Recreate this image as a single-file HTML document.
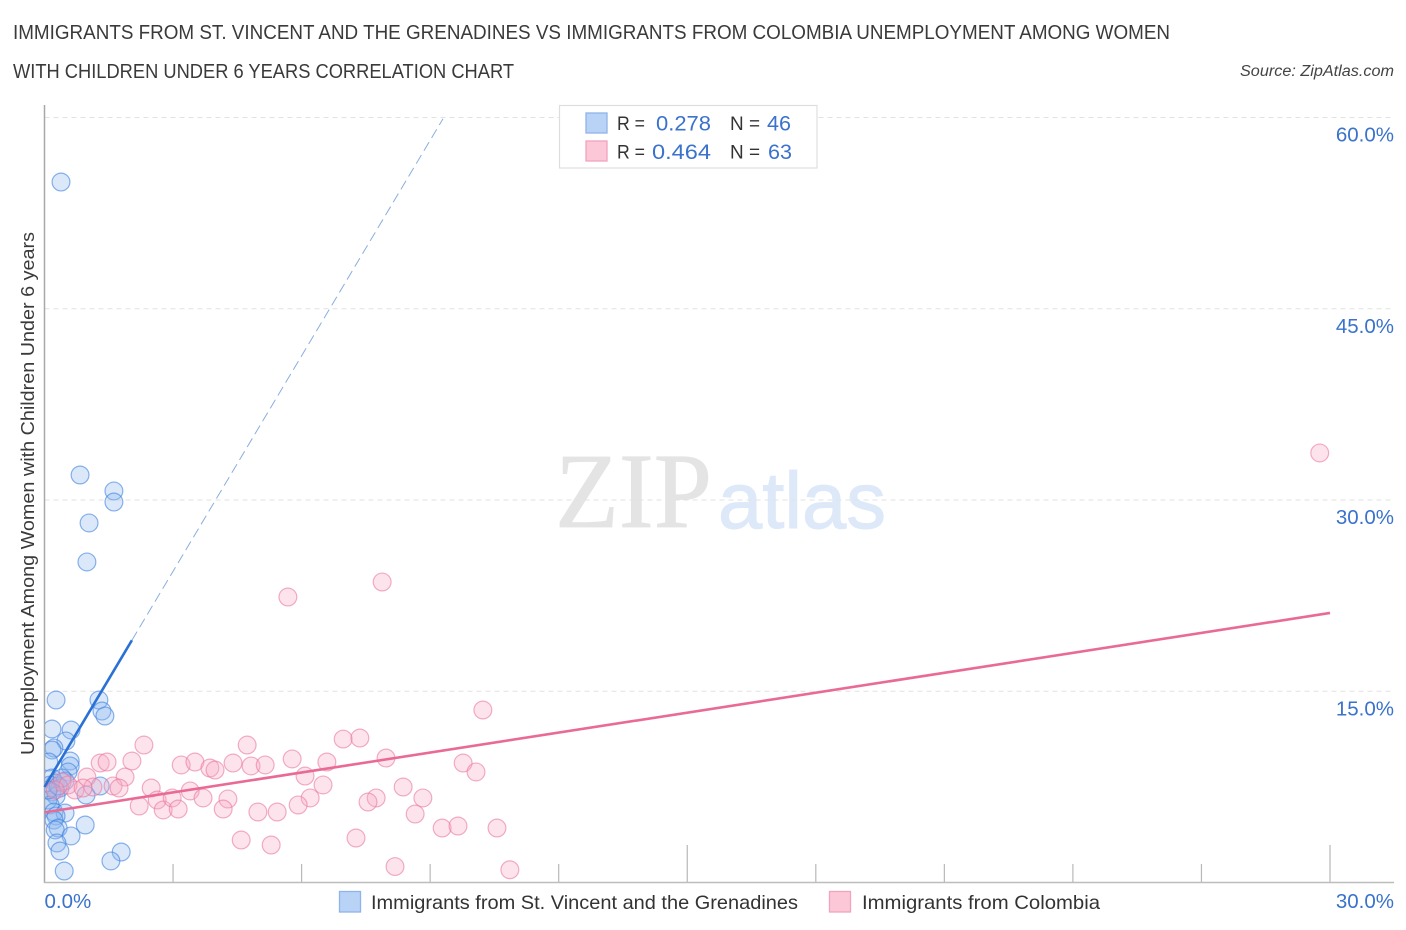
<!DOCTYPE html>
<html lang="en">
<head>
<meta charset="utf-8">
<title>Unemployment Among Women with Children Under 6 Years Correlation Chart</title>
<style>
html,body{margin:0;padding:0;background:#fff;width:1406px;height:930px;overflow:hidden}
svg{display:block;font-family:"Liberation Sans",sans-serif}
</style>
</head>
<body>
<svg id="chart" xmlns="http://www.w3.org/2000/svg" width="1406" height="930" viewBox="0 0 1406 930">
  <defs>
    <clipPath id="plot-clip"><rect x="45" y="100" width="1349" height="783"/></clipPath>
  </defs>
  <rect x="0" y="0" width="1406" height="930" fill="#ffffff"/>
  <text x="13" y="39" font-size="20" fill="#3a3a3a" textLength="1157" lengthAdjust="spacingAndGlyphs">IMMIGRANTS FROM ST. VINCENT AND THE GRENADINES VS IMMIGRANTS FROM COLOMBIA UNEMPLOYMENT AMONG WOMEN</text>
  <text x="13" y="78" font-size="20" fill="#3a3a3a" textLength="501" lengthAdjust="spacingAndGlyphs">WITH CHILDREN UNDER 6 YEARS CORRELATION CHART</text>
  <text x="1240" y="76" font-size="15.5" font-style="italic" fill="#444" textLength="154" lengthAdjust="spacingAndGlyphs">Source: ZipAtlas.com</text>

  <g>
    <text x="555" y="527" font-family="'Liberation Serif',serif" font-size="107" fill="#e4e4e4" stroke="#e4e4e4" stroke-width="0.8" textLength="157" lengthAdjust="spacingAndGlyphs">ZIP</text>
    <text x="718" y="528" font-size="80" fill="#dde9f8" stroke="#dde9f8" stroke-width="1" textLength="168" lengthAdjust="spacingAndGlyphs">atlas</text>
  </g>

  <g id="grid"></g>
  <g id="axes"></g>
  <g id="points" clip-path="url(#plot-clip)"></g>
  <g id="trends"></g>
  <g id="ticklabels"></g>

  <text transform="translate(34,755) rotate(-90)" x="0" y="0" font-size="18.5" fill="#3a3a3a" textLength="523" lengthAdjust="spacingAndGlyphs">Unemployment Among Women with Children Under 6 years</text>

  <g>
    <rect x="559.5" y="105.5" width="257.5" height="62.5" fill="#fff" stroke="#dedede" stroke-width="1.2"/>
    <rect x="586" y="113" width="21" height="20" fill="#b9d3f6" stroke="#8fb4ea" stroke-width="1.3"/>
    <rect x="586" y="141" width="21" height="20" fill="#fcc8d8" stroke="#f2a3bd" stroke-width="1.3"/>
    <text x="617" y="130" font-size="19.5" fill="#333" textLength="28" lengthAdjust="spacingAndGlyphs">R =</text>
    <text x="656" y="130.5" font-size="21" fill="#3a72cc" textLength="55" lengthAdjust="spacingAndGlyphs">0.278</text>
    <text x="730" y="130" font-size="19.5" fill="#333" textLength="30" lengthAdjust="spacingAndGlyphs">N =</text>
    <text x="767" y="130.5" font-size="21" fill="#3a72cc" textLength="24" lengthAdjust="spacingAndGlyphs">46</text>
    <text x="617" y="158.5" font-size="19.5" fill="#333" textLength="28" lengthAdjust="spacingAndGlyphs">R =</text>
    <text x="652" y="159" font-size="21" fill="#3a72cc" textLength="59" lengthAdjust="spacingAndGlyphs">0.464</text>
    <text x="730" y="158.5" font-size="19.5" fill="#333" textLength="30" lengthAdjust="spacingAndGlyphs">N =</text>
    <text x="768" y="159" font-size="21" fill="#3a72cc" textLength="24" lengthAdjust="spacingAndGlyphs">63</text>
  </g>

  <g>
    <rect x="339.5" y="891.5" width="21" height="20.5" fill="#b9d3f6" stroke="#8fb4ea" stroke-width="1.3"/>
    <text x="371" y="909" font-size="19.5" fill="#333" textLength="427" lengthAdjust="spacingAndGlyphs">Immigrants from St. Vincent and the Grenadines</text>
    <rect x="829.5" y="891.5" width="21" height="20.5" fill="#fcc8d8" stroke="#f2a3bd" stroke-width="1.3"/>
    <text x="862" y="909" font-size="19.5" fill="#333" textLength="238" lengthAdjust="spacingAndGlyphs">Immigrants from Colombia</text>
  </g>
</svg>
<script>
const blueX = [0.385,0.83,1.62,1.62,1.04,0.99,0.27,1.27,1.34,1.41,0.175,0.62,0.5,0.22,0.175,0.1,0.6,0.6,0.55,0.175,0.25,0.48,1.3,0.97,0.13,0.36,0.175,0.27,0.08,0.13,0.22,0.48,0.27,0.22,0.32,0.25,0.95,0.62,0.29,0.36,1.79,1.55,0.46,0.32,0.08,0.41];
const blueY = [54.94,31.96,30.71,29.84,28.2,25.14,14.31,14.31,13.45,13.06,12.04,11.96,11.1,10.55,10.39,9.45,9.53,9.14,8.67,8.2,7.8,7.96,7.57,6.86,7.65,7.41,7.1,6.78,6.47,6.08,5.53,5.45,5.22,4.9,4.27,4.12,4.51,3.65,3.1,2.47,2.39,1.69,0.9,7.57,7.25,8.2];
const pinkX = [2.32,4.73,1.30,1.46,2.04,0.99,1.88,1.13,1.60,1.74,2.49,2.21,2.63,2.77,2.98,3.12,3.19,3.51,3.86,3.98,3.40,3.70,4.28,4.17,4.40,4.82,5.15,4.98,5.43,4.59,5.29,10.23,6.97,7.36,5.78,6.59,7.97,6.08,9.77,10.07,6.50,8.37,6.20,5.92,7.74,7.55,8.83,8.65,9.28,9.65,10.56,7.27,8.18,10.86,7.88,5.68,29.76,0.71,0.41,0.55,0.25,0.90];
const pinkY = [10.78,10.78,9.37,9.45,9.53,8.27,8.27,7.49,7.57,7.41,7.41,6.0,6.47,5.69,6.63,5.76,9.22,9.45,8.98,8.82,7.18,6.63,6.55,5.76,9.37,9.14,9.22,5.53,5.53,3.33,2.94,13.53,11.25,11.33,9.69,9.45,9.76,8.35,9.37,8.67,7.65,7.49,6.63,6.08,6.63,6.31,6.63,5.37,4.27,4.43,4.27,3.49,1.25,1.0,23.57,22.39,33.69,7.25,7.88,7.65,7.25,7.41];
const blueTrendX = [0,2.04];
const blueTrendY = [7.49,19.0];
const blueDashX = [2.04,9.3];
const blueDashY = [19.0,59.9];
const pinkTrendX = [0,30];
const pinkTrendY = [5.5,21.14];
const yTicks = [15,30,45,60];
const yTickLabels = ["15.0%","30.0%","45.0%","60.0%"];
const xTicks = [3,6,9,12,15,18,21,24,27,30];
const xMajorTicks = [15,30];
const xEndTicks = [0,30];
const xEndLabels = ["0.0%","30.0%"];

const NS = "http://www.w3.org/2000/svg";
function sx(v){ return 44.5 + v * 42.85; }
function sy(v){ return 882.5 - v * 12.75; }
function make(tag, attrs, parent){
  const el = document.createElementNS(NS, tag);
  for (const k in attrs) el.setAttribute(k, attrs[k]);
  parent.appendChild(el);
  return el;
}
const gridG = document.getElementById('grid');
const axesG = document.getElementById('axes');
const pointsG = document.getElementById('points');
const trendsG = document.getElementById('trends');
const labelsG = document.getElementById('ticklabels');

yTicks.forEach(function(t){
  const el = make('line',{x1:44.5,x2:1394,y1:sy(t),y2:sy(t),stroke:'#e2e2e2','stroke-width':1,'stroke-dasharray':'5 4'},gridG);
  
  
});

const yAxis = make('line',{x1:44.5,x2:44.5,y1:105,y2:883,stroke:'#a8a8a8','stroke-width':1.5},axesG);


const xAxis = make('line',{x1:44,x2:1394,y1:882.5,y2:882.5,stroke:'#bdbdbd','stroke-width':1.5},axesG);


xTicks.forEach(function(t){
  const top = xMajorTicks.indexOf(t) >= 0 ? 845 : 864;
  const el = make('line',{x1:sx(t),x2:sx(t),y1:top,y2:882,stroke:'#b8b8b8','stroke-width':1.2},axesG);
  
  
});

blueX.forEach(function(x,i){
  const el = make('circle',{cx:sx(x),cy:sy(blueY[i]),r:8.9,fill:'rgba(140,182,240,0.32)',stroke:'rgba(62,128,222,0.60)','stroke-width':1.2},pointsG);
  
  
});
pinkX.forEach(function(x,i){
  const el = make('circle',{cx:sx(x),cy:sy(pinkY[i]),r:8.9,fill:'rgba(248,170,196,0.32)',stroke:'rgba(234,120,160,0.60)','stroke-width':1.2},pointsG);
  
  
});

const tb = make('line',{x1:sx(blueTrendX[0]),y1:sy(blueTrendY[0]),x2:sx(blueTrendX[1]),y2:sy(blueTrendY[1]),stroke:'#2a70d6','stroke-width':2.6},trendsG);


const td = make('line',{x1:sx(blueDashX[0]),y1:sy(blueDashY[0]),x2:sx(blueDashX[1]),y2:sy(blueDashY[1]),stroke:'#8aaede','stroke-width':1,'stroke-dasharray':'10 5'},trendsG);


const tp = make('line',{x1:sx(pinkTrendX[0]),y1:sy(pinkTrendY[0]),x2:sx(pinkTrendX[1]),y2:sy(pinkTrendY[1]),stroke:'#ea6a96','stroke-width':2.6},trendsG);



yTicks.forEach(function(t,i){
  const el = make('text',{x:1394,y:sy(t)+24,'text-anchor':'end','font-size':20.5,fill:'#3a72cc'},labelsG);
  el.textContent = yTickLabels[i];
  
  
});
xEndTicks.forEach(function(t,i){
  const el = make('text',{x:i === 0 ? sx(t) : 1394,y:908,'text-anchor':i === 0 ? 'start' : 'end','font-size':20.5,fill:'#3a72cc'},labelsG);
  el.textContent = xEndLabels[i];
  
  
});
</script>
</body>
</html>
